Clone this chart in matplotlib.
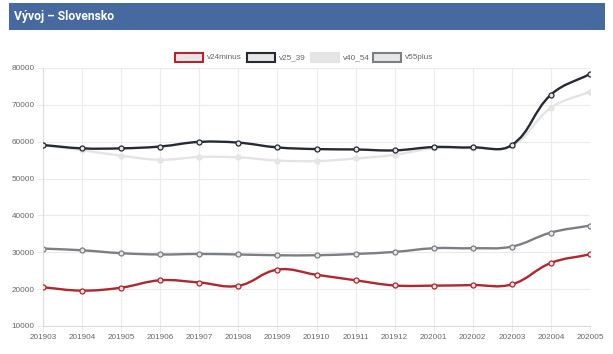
import matplotlib
matplotlib.use("Agg")
import matplotlib.pyplot as plt
import numpy as np
from matplotlib.path import Path
from matplotlib.patches import PathPatch, Rectangle

months = ["201903", "201904", "201905", "201906", "201907", "201908", "201909",
          "201910", "201911", "201912", "202001", "202002", "202003", "202004", "202005"]
v24minus = [20500, 19600, 20400, 22400, 21800, 20900, 25300, 23900, 22400, 21000,
            20950, 21100, 21300, 27100, 29450]
v25_39 = [59100, 58200, 58200, 58700, 59950, 59750, 58450, 58000, 57900, 57650,
          58550, 58450, 59100, 72750, 78400]
v40_54 = [59000, 57700, 56200, 55100, 55850, 55750, 54900, 54750, 55450, 56450,
          58200, 58300, 58800, 69200, 73600]
v55plus = [31000, 30550, 29750, 29400, 29550, 29400, 29200, 29200, 29550, 30100,
           31100, 31100, 31550, 35350, 37250]
series_names = ["v24minus", "v25_39", "v40_54", "v55plus"]
y_ticks = [10000, 20000, 30000, 40000, 50000, 60000, 70000, 80000]

colors = {"v24minus": "#b0272f", "v25_39": "#262a33", "v40_54": "#e4e4e4", "v55plus": "#7b7e83"}
fill = "#e6e6e6"
data = {"v24minus": v24minus, "v25_39": v25_39, "v40_54": v40_54, "v55plus": v55plus}

W, H = 613, 354
fig = plt.figure(figsize=(W / 100, H / 100), dpi=100)
fig.patch.set_facecolor("white")

# title bar
fig.patches.append(Rectangle((9 / W, 1 - 30 / H), 596 / W, 27 / H, transform=fig.transFigure,
                             facecolor="#46699f", edgecolor="none", zorder=0))
fig.text(14 / W, 1 - 16.5 / H, "Vývoj – Slovensko", color="white", fontsize=8.7,
         fontweight="bold", family=["Roboto", "DejaVu Sans"], va="center", ha="left")

left, right, top, bottom = 43, 590, 68, 326
ax = fig.add_axes([left / W, 1 - bottom / H, (right - left) / W, (bottom - top) / H])
ax.set_xlim(0, len(months) - 1)
ax.set_ylim(10000, 80000)
ax.set_facecolor("none")

# pixel scales for Chart.js-like spline
sx = (right - left) / (len(months) - 1)
sy = (bottom - top) / 70000.0


def chartjs_path(xs, ys, t=0.4):
    px = np.array(xs, float) * sx
    py = np.array(ys, float) * sy
    n = len(px)
    cp_prev = [None] * n
    cp_next = [None] * n
    for i in range(n):
        p0 = (px[max(i - 1, 0)], py[max(i - 1, 0)])
        p1 = (px[i], py[i])
        p2 = (px[min(i + 1, n - 1)], py[min(i + 1, n - 1)])
        d01 = np.hypot(p1[0] - p0[0], p1[1] - p0[1])
        d12 = np.hypot(p2[0] - p1[0], p2[1] - p1[1])
        s01 = d01 / (d01 + d12) if d01 + d12 else 0
        s12 = d12 / (d01 + d12) if d01 + d12 else 0
        fa = t * s01
        fb = t * s12
        cp_prev[i] = (p1[0] - fa * (p2[0] - p0[0]), p1[1] - fa * (p2[1] - p0[1]))
        cp_next[i] = (p1[0] + fb * (p2[0] - p0[0]), p1[1] + fb * (p2[1] - p0[1]))
    verts = [(px[0], py[0])]
    codes = [Path.MOVETO]
    for i in range(1, n):
        verts += [cp_next[i - 1], cp_prev[i], (px[i], py[i])]
        codes += [Path.CURVE4] * 3
    verts = [(vx / sx, vy / sy) for vx, vy in verts]
    return Path(verts, codes)


x = np.arange(len(months))
z = {"v24minus": 5, "v25_39": 4, "v40_54": 3, "v55plus": 2}
for name in series_names:
    vals = data[name]
    path = chartjs_path(x, vals)
    ax.add_patch(PathPatch(path, facecolor="none", edgecolor=colors[name], lw=1.7,
                           zorder=z[name], capstyle="round", joinstyle="round"))
    ax.plot(x, vals, linestyle="none", marker="o", markersize=3.6,
            markerfacecolor=fill, markeredgecolor=colors[name],
            markeredgewidth=0.9, zorder=z[name] + 0.1)

ax.set_xticks(x)
ax.set_xticklabels(months)
ax.set_yticks(y_ticks)
ax.set_yticklabels([str(v) for v in y_ticks])
ax.grid(True, color="#ebebeb", linewidth=0.8)
ax.set_axisbelow(True)
for s in ["top", "right"]:
    ax.spines[s].set_visible(False)
for s in ["left", "bottom"]:
    ax.spines[s].set_color("#dcdcdc")
    ax.spines[s].set_linewidth(0.8)
ax.tick_params(axis="both", length=4, color="#ebebeb", labelsize=5.9,
               labelcolor="#666666", pad=2)
for lab in ax.get_xticklabels() + ax.get_yticklabels():
    lab.set_family(["Liberation Sans", "DejaVu Sans"])

# legend
leg = [("v24minus", 175), ("v25_39", 247), ("v40_54", 311), ("v55plus", 373)]
for name, bx in leg:
    fig.patches.append(Rectangle((bx / W, 1 - 62 / H), 28 / W, 9 / H, transform=fig.transFigure,
                                 facecolor=fill, edgecolor=colors[name], lw=1.5))
    fig.text((bx + 32) / W, 1 - 57.5 / H, name, fontsize=5.9, color="#666666",
             family=["Liberation Sans", "DejaVu Sans"], va="center", ha="left")

fig.savefig("out.png", dpi=100)
